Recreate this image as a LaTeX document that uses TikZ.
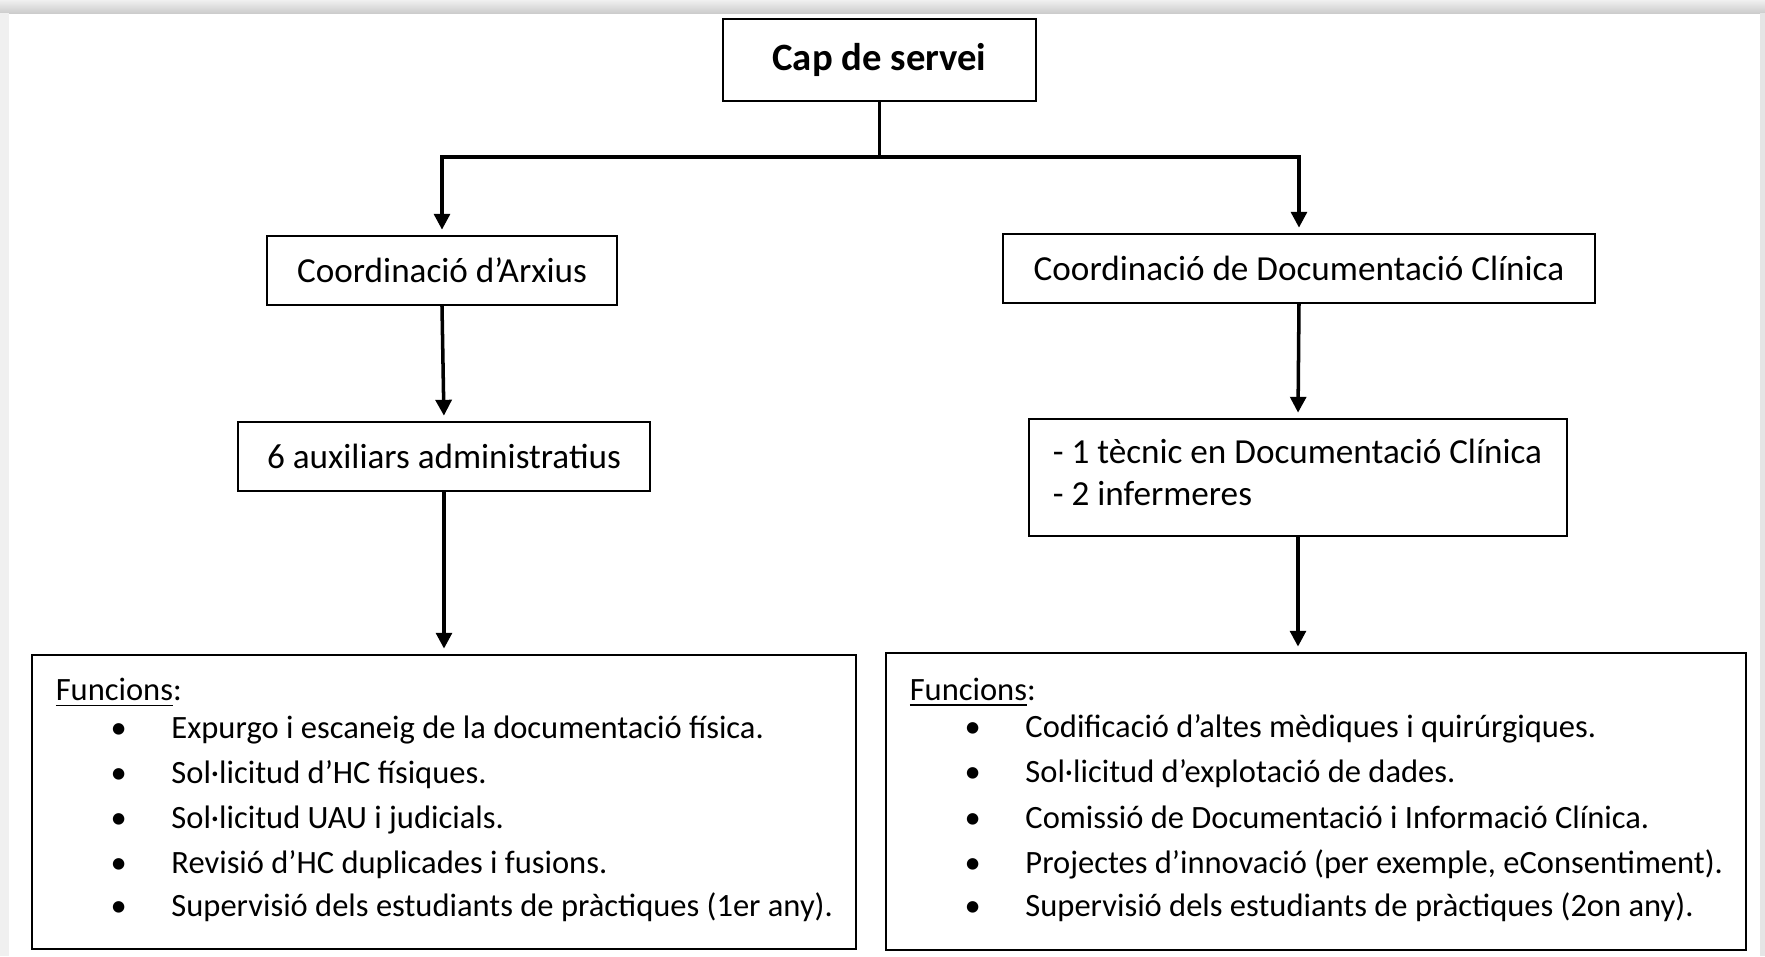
\documentclass[tikz,border=0pt]{standalone}
\usepackage{fontspec}
\setmainfont{Carlito}
\usetikzlibrary{arrows.meta,calc}
\tikzstyle{box}=[draw,line width=0.6pt,inner sep=0pt,font=\fontsize{10}{12.8}\selectfont]
\tikzstyle{textbox}=[box,align=flush left]
\tikzstyle{funcbox}=[textbox,font=\fontsize{9.25}{12.8}\selectfont]
\tikzstyle{link}=[line width=1pt]
\tikzstyle{arrow}=[link,-{Triangle[width=4.5pt,length=4.5pt]},shorten >=1.5pt]
\newcommand{\funcitem}[1]{\hspace*{15.6pt}\makebox[17.3pt][l]{\textbullet}#1}
\newcommand{\funclist}[5]{\leftskip=0.24cm\underline{Funcions}:\\[-2pt]
	\funcitem{#1}\\ \funcitem{#2}\\ \funcitem{#3}\\ \funcitem{#4}\\[-0.5pt] \funcitem{#5}\\[-10.2pt]\mbox{}\par}

\begin{document}
\begin{tikzpicture}[x=0.01cm,y=-0.01cm]
	\useasboundingbox (0,0) rectangle (1765,956);
	% page frame with its shadow
	\fill[white] (0,0) rectangle (1765,956);
	\shade[top color=gray!12,bottom color=gray!40] (0,0) rectangle (1765,13);
	\fill[gray!12] (0,13) rectangle (9,956);
	\fill[gray!20] (1760,13) rectangle (1765,956);
	% boxes
	\node[box,minimum width=3.13cm,minimum height=0.82cm,font=\fontsize{11}{13}\selectfont\bfseries] (cap) at (879.5,60) {Cap de servei};
	\node[box,minimum width=3.5cm,minimum height=0.69cm] (arxius) at (442,270.5) {Coordinació d’Arxius};
	\node[box,minimum width=5.92cm,minimum height=0.69cm] (coorddoc) at (1299,268.5) {Coordinació de Documentació Clínica};
	\node[box,minimum width=4.12cm,minimum height=0.69cm] (aux) at (444,456.5) {6 auxiliars administratius};
	\node[textbox,text width=5.38cm,minimum height=1.17cm] (staff) at (1298,477.5)
		{\leftskip=0.24cm - 1 tècnic en Documentació Clínica\\[-1pt]- 2 infermeres\\[-9.8pt]\mbox{}\par};
	\node[funcbox,text width=8.24cm,minimum height=2.94cm] (funcL) at (444,802)
		{\funclist{Expurgo i escaneig de la documentació física.}{Sol·licitud d’HC físiques.}{Sol·licitud UAU i judicials.}{Revisió d’HC duplicades i fusions.}{Supervisió dels estudiants de pràctiques (1er any).}};
	\node[funcbox,text width=8.60cm,minimum height=2.97cm] (funcR) at (1316,801.5)
		{\funclist{Codificació d’altes mèdiques i quirúrgiques.}{Sol·licitud d’explotació de dades.}{Comissió de Documentació i Informació Clínica.}{Projectes d’innovació (per exemple, eConsentiment).}{Supervisió dels estudiants de pràctiques (2on any).}};
	% connectors
	\draw[link] (cap.south) -- ++(0,55) coordinate (split);
	\draw[arrow] (split) -| (arxius.north);
	\draw[arrow] (split) -| (coorddoc.north);
	\draw[arrow] (arxius.south) -- (aux.north);
	\draw[arrow] (aux.south) -- (funcL.north);
	\draw[arrow] (coorddoc.south) -- (staff.north);
	\draw[arrow] (staff.south) -- (staff.south |- funcR.north);
\end{tikzpicture}
\end{document}
